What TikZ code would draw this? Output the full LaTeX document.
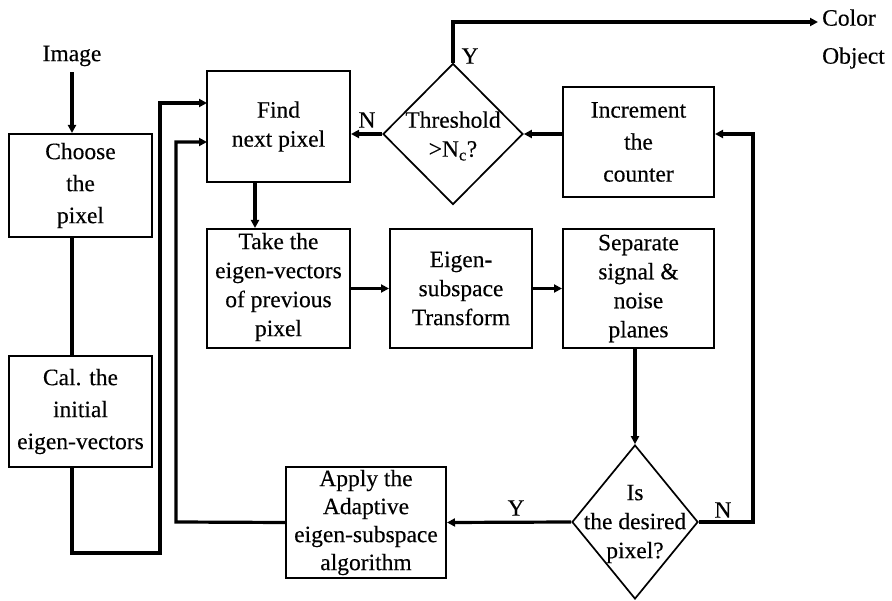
\documentclass[tikz,border=0pt]{standalone}
\usepackage{fontspec}
\setmainfont{Liberation Serif}[UprightFeatures={FakeBold=0.3}]
\usetikzlibrary{shapes.geometric,arrows.meta}
\begin{document}
\begin{tikzpicture}[x=1pt,y=-1pt,
  box/.style={draw,line width=2pt,rectangle,align=center,inner sep=0pt,font=\fontsize{23.5}{29}\selectfont},
  dia/.style={draw,line width=1.7pt,diamond,inner sep=0pt},
  lbl/.style={font=\fontsize{23.5}{29}\selectfont,align=center,inner sep=0pt},
  conn/.style={line width=3.2pt},
  arr/.style={conn,-{Triangle[length=8pt,width=8pt]}}
]
\path[use as bounding box,fill=white] (0,0) rectangle (892,601);

% nodes
\node[lbl] (img) at (72,56) {Image};
\node[box,minimum width=143pt,minimum height=103pt,font=\fontsize{23.5}{32}\selectfont] (choose) at (80.5,185.5) {Choose\\the\\pixel};
\node[box,minimum width=143pt,minimum height=111pt,font=\fontsize{23.5}{32}\selectfont] (cal) at (80.5,411.5) {Cal. the\\initial\\eigen-vectors};
\node[box,minimum width=143pt,minimum height=111pt] (find) at (278.5,126.5) {Find\\next pixel};
\node[box,minimum width=143pt,minimum height=119pt,text depth=8pt] (take) at (278.5,288.5) {Take the\\eigen-vectors\\of previous\\pixel};
\node[box,minimum width=142pt,minimum height=119pt] (eig) at (461,288.5) {Eigen-\\subspace\\Transform};
\node[box,minimum width=151pt,minimum height=119pt] (sep) at (638.5,288.5) {Separate\\signal \&\\noise\\planes};
\node[box,minimum width=151pt,minimum height=110pt,font=\fontsize{23.5}{32}\selectfont] (inc) at (638.5,142) {Increment\\the\\counter};
\node[box,minimum width=160pt,minimum height=111pt,font=\fontsize{23.5}{28}\selectfont] (apply) at (366,522.5) {Apply the\\Adaptive\\eigen-subspace\\algorithm};

\node[dia,minimum width=140pt,minimum height=141pt] (thr) at (453,134) {};
\node[lbl] (thrtxt) at (453,136) {Threshold\\\textgreater N\textsubscript{c}?};
\node[dia,minimum width=126pt,minimum height=154pt] (is) at (635,522) {};
\node[lbl] (istxt) at (635,524) {Is\\the desired\\pixel?};

\node[lbl,anchor=west,font=\fontsize{23.5}{38}\selectfont,align=left] (co) at (822,39) {Color\\Object};

% labels
\node[lbl] (ythr) at (470,56) {Y};
\node[lbl] (nthr) at (367,120) {N};
\node[lbl] (yis) at (516,508) {Y};
\node[lbl] (nis) at (723,510) {N};

% coordinates
\coordinate (f1) at (207,103);
\coordinate (f2) at (207,142);
\coordinate (c1) at (160,553);
\coordinate (c2) at (176,522);
\coordinate (xft) at (255,200);
\coordinate (nr) at (753,134);
\coordinate (top) at (453,22);
\coordinate (coend) at (818,22);

% connectors
\draw[arr] (img.south) ++(0,6) -- (choose.north -| img);
\draw[conn] (choose.south -| img) -- (cal.north -| img);
\draw[arr] (cal.south -| img) |- (c1) |- (f1);
\draw[arr] (apply.west) -- (c2) |- (f2);
\draw[arr] (find.south -| xft) -- (take.north -| xft);
\draw[arr] (take.east) -- (eig.west);
\draw[arr] (eig.east) -- (sep.west);
\draw[arr] (sep.south -| is) -- (is.north);
\draw[arr] (is.west) -- (apply.east);
\draw[arr] (is.east) -| (nr) -- (nr -| inc.east);
\draw[arr] (inc.west |- thr) -- (thr.east);
\draw[arr] (thr.west) -- (thr.west -| find.east);
\draw[arr] (thr.north) -- (top) -- (coend);
\end{tikzpicture}
\end{document}
